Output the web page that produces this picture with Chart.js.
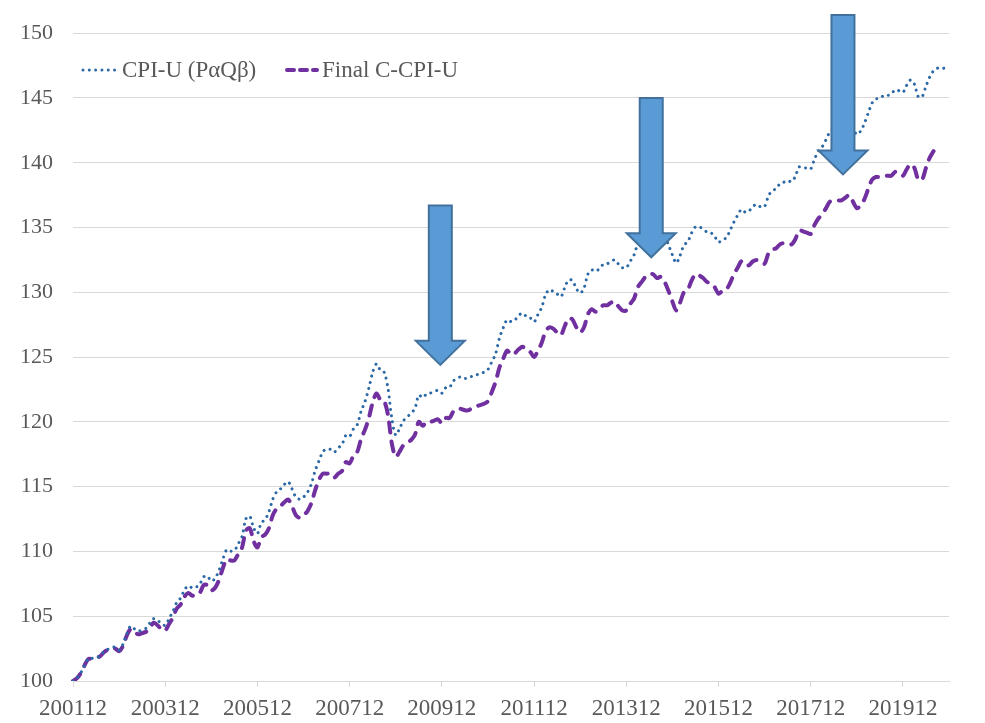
<!DOCTYPE html>
<html><head><meta charset="utf-8">
<script src="https://cdn.jsdelivr.net/npm/chart.js@4.4.1/dist/chart.umd.min.js"></script>
<style>html,body{margin:0;padding:0;background:#fff;}canvas{display:block;}</style>
</head><body>
<canvas id="c" width="985" height="723"></canvas>
<script>
// ---- categories: monthly, 200112 .. 202012 ----
const firstYear = 2001, firstMonth = 12, monthCount = 229;
const categories = [];
for (let k = 0; k < monthCount; k++) {
  const m0 = firstMonth - 1 + k;
  categories.push(String(firstYear + Math.floor(m0 / 12)) + String(m0 % 12 + 1).padStart(2, '0'));
}
const tickLabels = ['200112','200312','200512','200712','200912','201112','201312','201512','201712','201912'];
const seriesNames = ['CPI-U (P\u03b1Q\u03b2)', 'Final C-CPI-U'];

// ---- series values (index, 200112 = 100) ----
const cpiU = [
  100.00,
  100.23,100.62,101.19,101.75,101.75,101.81,101.92,102.26,102.43,102.60,102.60,102.38,
  102.83,103.62,104.24,104.02,103.85,103.96,104.07,104.47,104.81,104.70,104.41,104.30,
  104.81,105.38,106.06,106.40,107.02,107.36,107.19,107.24,107.47,108.04,108.09,107.70,
  107.92,108.55,109.39,110.13,110.02,110.07,110.58,111.15,112.51,112.73,111.83,111.38,
  112.22,112.45,113.07,114.03,114.60,114.83,115.17,115.39,114.83,114.20,114.03,114.20,
  114.55,115.17,116.21,116.97,117.68,117.91,117.88,117.67,117.99,118.24,118.95,118.87,
  119.46,119.80,120.84,121.57,122.60,123.83,124.48,123.99,123.82,122.56,120.22,118.97,
  119.49,120.09,120.38,120.68,121.03,122.07,121.87,122.15,122.22,122.34,122.43,122.21,
  122.63,122.66,123.16,123.38,123.47,123.35,123.38,123.55,123.62,123.78,123.83,124.04,
  124.63,125.25,126.47,127.28,127.88,127.74,127.86,128.21,128.40,128.14,128.03,127.72,
  128.28,128.84,129.82,130.21,130.06,129.87,129.66,130.38,130.96,130.91,130.29,129.94,
  130.32,131.39,131.73,131.60,131.83,132.15,132.20,132.36,132.51,132.17,131.90,131.89,
  132.38,132.87,133.73,134.17,134.63,134.89,134.83,134.61,134.71,134.37,133.65,132.89,
  132.26,132.84,133.63,133.90,134.58,135.05,135.06,134.87,134.66,134.60,134.32,133.86,
  134.08,134.19,134.77,135.41,135.95,136.40,136.18,136.30,136.63,136.80,136.59,136.63,
  137.43,137.86,137.98,138.38,138.50,138.63,138.53,138.95,139.68,139.59,139.60,139.52,
  140.28,140.91,141.23,141.79,142.38,142.61,142.62,142.70,142.86,143.11,142.64,142.18,
  142.45,143.05,143.86,144.62,144.93,144.96,145.20,145.19,145.31,145.64,145.56,145.43,
  145.99,146.39,146.07,145.10,145.10,145.90,146.63,147.10,147.30,147.36,147.27,147.41
];
const finalCCPIU = [
  100.0,
  100.2,100.6,101.2,101.7,101.7,101.8,101.9,102.2,102.4,102.5,102.5,102.3,
  102.7,103.5,104.0,103.8,103.6,103.7,103.8,104.1,104.5,104.3,104.0,103.9,
  104.4,104.9,105.6,105.9,106.5,106.8,106.6,106.6,106.8,107.4,107.4,107.0,
  107.2,107.8,108.7,109.4,109.3,109.3,109.8,110.3,111.6,111.8,110.8,110.3,
  111.1,111.3,111.8,112.8,113.3,113.5,113.8,114.0,113.5,112.8,112.6,112.8,
  113.1,113.7,114.7,115.5,116.0,116.0,116.0,115.7,116.0,116.2,116.9,116.8,
  117.4,117.7,118.7,119.4,120.3,121.5,122.2,121.7,121.6,120.5,118.3,117.3,
  117.7,118.2,118.4,118.6,119.0,120.0,119.7,120.0,120.0,120.1,120.2,119.9,
  120.3,120.3,120.8,121.0,121.0,120.9,120.9,121.1,121.2,121.3,121.4,121.6,
  122.3,123.1,124.2,124.9,125.5,125.2,125.3,125.6,125.8,125.5,125.4,125.0,
  125.5,126.1,127.0,127.3,127.2,126.9,126.7,127.4,128.0,127.9,127.3,126.9,
  127.3,128.3,128.7,128.5,128.7,129.0,129.0,129.2,129.3,128.9,128.6,128.6,
  129.1,129.5,130.4,130.8,131.2,131.4,131.4,131.1,131.2,130.8,130.1,129.3,
  128.6,129.2,130.0,130.2,130.9,131.4,131.3,131.1,130.8,130.7,130.4,129.9,
  130.1,130.2,130.7,131.4,131.9,132.4,132.1,132.1,132.4,132.5,132.3,132.2,
  133.0,133.3,133.4,133.7,133.8,133.8,133.7,134.1,134.8,134.7,134.6,134.5,
  135.2,135.7,136.0,136.5,137.0,137.1,137.1,137.1,137.3,137.5,137.0,136.5,
  136.7,137.2,138.0,138.7,138.9,138.9,139.0,139.0,139.0,139.3,139.2,139.0,
  139.5,139.9,139.6,138.7,138.7,139.6,140.4,140.9
];

// ---- annotation arrows (position in category index / value units) ----
const arrowAt  = [95.6, 150.5, 200.4];
const arrowTop = [136.7, 145.0, 151.4];
const arrowTip = [124.4, 132.7, 139.1];

const FONT = "'Liberation Serif', 'Times New Roman', serif";
const TXT = '#595959';
const BLUE = '#2B68A6';
const PURPLE = '#7030A0';

const arrowPlugin = {
  id: 'arrows',
  afterDatasetsDraw(chart) {
    const ctx = chart.ctx, xs = chart.scales.x, ys = chart.scales.y;
    const sw = 23, hw = 49, hh = 24;
    ctx.save();
    for (let k = 0; k < arrowAt.length; k++) {
      const cx = xs.getPixelForValue(arrowAt[k]);
      const yt = ys.getPixelForValue(arrowTop[k]);
      const yp = ys.getPixelForValue(arrowTip[k]);
      const yb = yp - hh;
      ctx.beginPath();
      ctx.moveTo(cx - sw / 2, yt);
      ctx.lineTo(cx + sw / 2, yt);
      ctx.lineTo(cx + sw / 2, yb);
      ctx.lineTo(cx + hw / 2, yb);
      ctx.lineTo(cx, yp);
      ctx.lineTo(cx - hw / 2, yb);
      ctx.lineTo(cx - sw / 2, yb);
      ctx.closePath();
      ctx.fillStyle = '#5B9BD5';
      ctx.fill();
      ctx.lineWidth = 2;
      ctx.lineJoin = 'miter';
      ctx.strokeStyle = '#41719C';
      ctx.stroke();
    }
    ctx.restore();
  }
};

const legendPlugin = {
  id: 'insideLegend',
  afterDraw(chart) {
    const ctx = chart.ctx;
    const y = 70;
    ctx.save();
    ctx.lineCap = 'round';
    ctx.strokeStyle = BLUE; ctx.lineWidth = 3; ctx.setLineDash([0.01, 6.3]);
    ctx.beginPath(); ctx.moveTo(83, y); ctx.lineTo(117, y); ctx.stroke();
    ctx.strokeStyle = PURPLE; ctx.lineWidth = 4; ctx.setLineDash([7, 6]);
    ctx.beginPath(); ctx.moveTo(287, y); ctx.lineTo(317, y); ctx.stroke();
    ctx.setLineDash([]);
    ctx.font = '23px ' + FONT;
    ctx.fillStyle = TXT;
    ctx.textBaseline = 'middle';
    ctx.textAlign = 'left';
    ctx.fillText(seriesNames[0], 122, y + 1);
    ctx.fillText(seriesNames[1], 322, y + 1);
    ctx.restore();
  }
};

new Chart(document.getElementById('c'), {
  type: 'line',
  data: {
    labels: categories,
    datasets: [
      { label: seriesNames[0], data: cpiU, borderColor: BLUE, borderWidth: 3,
        borderDash: [0.01, 6.3], borderCapStyle: 'round', pointRadius: 0, tension: 0.3, fill: false },
      { label: seriesNames[1], data: finalCCPIU, borderColor: PURPLE, borderWidth: 4,
        borderDash: [10, 9], borderCapStyle: 'round', pointRadius: 0, tension: 0.3, fill: false }
    ]
  },
  options: {
    responsive: false,
    animation: false,
    devicePixelRatio: 1,
    layout: { padding: { left: 0, right: 36, top: 31, bottom: 0 } },
    plugins: { legend: { display: false }, tooltip: { enabled: false } },
    scales: {
      x: {
        type: 'category',
        afterBuildTicks(scale) {
          scale.ticks = scale.ticks.filter(t => tickLabels.includes(categories[t.value]));
        },
        afterFit(scale) { scale.height = 42; },
        grid: { drawOnChartArea: false, drawTicks: true, tickLength: 6, tickColor: '#d9d9d9' },
        border: { display: true, color: '#d9d9d9', width: 1 },
        ticks: { autoSkip: false, maxRotation: 0, minRotation: 0, padding: 8,
                 color: TXT, font: { family: FONT, size: 23 } }
      },
      y: {
        min: 100, max: 150,
        afterFit(scale) { scale.width = 73; },
        grid: { color: '#d9d9d9', lineWidth: 1, drawTicks: false },
        border: { display: false },
        ticks: { stepSize: 5, padding: 20, color: TXT, font: { family: FONT, size: 22 } }
      }
    }
  },
  plugins: [arrowPlugin, legendPlugin]
});
</script>
</body></html>
